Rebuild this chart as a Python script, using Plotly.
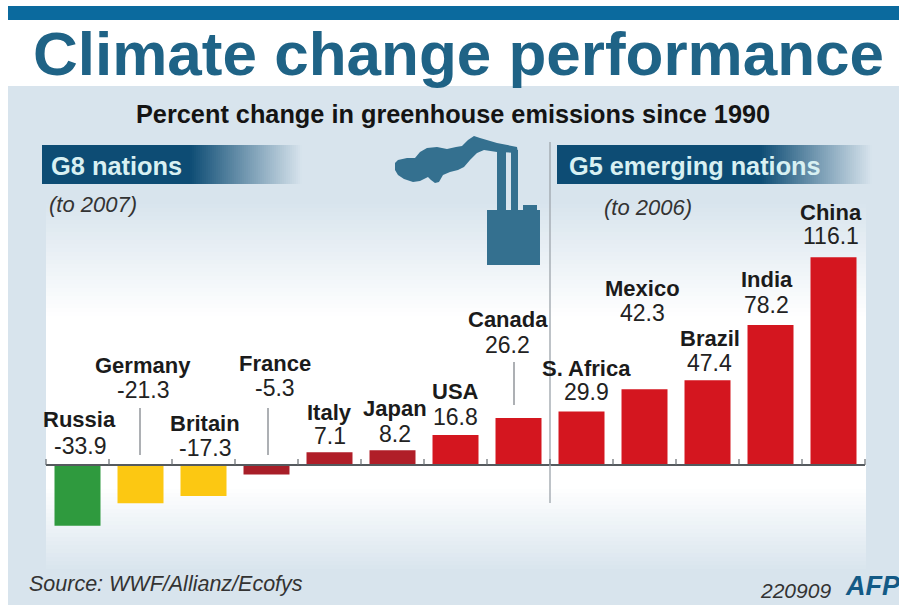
import plotly.graph_objects as go

# ---- data ----
categories = ["Russia", "Germany", "Britain", "France", "Italy", "Japan", "USA", "Canada",
              "S. Africa", "Mexico", "Brazil", "India", "China"]
values = [-33.9, -21.3, -17.3, -5.3, 7.1, 8.2, 16.8, 26.2, 29.9, 42.3, 47.4, 78.2, 116.1]
bar_colors = ["#2f9a3e", "#fcc812", "#fcc812", "#a81e28", "#b01e28", "#b01e28", "#d4161f", "#d4161f",
              "#d4161f", "#d4161f", "#d4161f", "#d4161f", "#d4161f"]

# label layout (pixels): centre offset from the bar, name row, value row
label_dx = [2, 2, 1, 8, 0, 2, 0, -11, 5, -2, 2, -4, -3]
name_y = [420, 365, 423, 363, 412, 408, 392, 320, 368, 288, 338, 279, 212]
value_y = [446, 390, 448, 388, 436, 434, 417, 345, 392, 313, 363, 305, 236]

W, H = 899, 606
FONT = "Liberation Sans"
PANEL = (216, 228, 237)
TEAL = "#1f6386"
AXIS_LEFT, AXIS_RIGHT = 46, 865


def px(x):
    return x / W


def py(y):
    return 1 - y / H


def mix(t):
    c = [round(p + (255 - p) * t) for p in PANEL]
    return f"rgb({c[0]},{c[1]},{c[2]})"


def rect(x0, y0, x1, y1, color):
    return dict(type="rect", xref="paper", yref="paper", x0=px(x0), x1=px(x1), y0=py(y0), y1=py(y1),
                fillcolor=color, line_width=0, layer="below")


def poly(points, color):
    d = "M " + " L ".join(f"{px(a):.5f},{py(b):.5f}" for a, b in points) + " Z"
    return dict(type="path", xref="paper", yref="paper", path=d, fillcolor=color, line_width=0, layer="below")


def vline(x, y0, y1, color="#8a8f94", width=1.4):
    return dict(type="line", xref="paper", yref="paper", x0=px(x), x1=px(x), y0=py(y0), y1=py(y1),
                line=dict(color=color, width=width), layer="above")


shapes = [rect(8, 86, 899, 605, mix(0)), rect(8, 6, 899, 20, "#0b6a9e")]

# vertical fade of the plot panel
for y in range(200, 320, 4):
    shapes.append(rect(46, y, 866, y + 4, mix(min(1, (y - 200) / 115))))
shapes.append(rect(46, 320, 866, 485, mix(1)))
for y in range(485, 580, 4):
    shapes.append(rect(46, y, 866, y + 4, mix(max(0, 1 - (y - 485) / 85))))


def banner(x0, x1, fade_from, y0, y1):
    shapes.append(rect(x0, y0, fade_from, y1, "#0d4c74"))
    for x in range(fade_from, x1, 2):
        t = (x + 1 - fade_from) / (x1 - fade_from)
        col = [round(a + (b - a) * t) for a, b in zip((13, 76, 116), PANEL)]
        shapes.append(rect(x, y0, x + 2, y1, f"rgb({col[0]},{col[1]},{col[2]})"))


banner(42, 302, 190, 145, 184)
banner(557, 872, 760, 145, 184)

# factory icon
ICON = "#34708f"
shapes.append(poly([(395, 163), (398, 160), (407, 158), (415, 158), (420, 152), (427, 148), (437, 147),
                    (447, 149), (456, 147), (462, 146), (468, 140), (474, 136), (480, 138), (497, 143),
                    (517, 147), (518, 153), (497, 152), (484, 150), (477, 153), (470, 160), (464, 167),
                    (458, 170), (450, 172), (443, 175), (439, 182), (435, 183), (431, 180), (428, 177),
                    (420, 181), (413, 182), (404, 179), (398, 175), (395, 170)], ICON))
shapes.append(rect(497, 150, 506, 212, ICON))
shapes.append(rect(511, 150, 518, 212, ICON))
shapes.append(rect(523, 205, 537, 212, ICON))
shapes.append(rect(487, 210, 540, 265, ICON))

# divider and leader lines
shapes += [vline(550, 142, 503, "#a3aab0"), vline(140, 408, 455), vline(268, 408, 455), vline(514, 362, 405)]

# ticks on the category boundaries
step = (AXIS_RIGHT - AXIS_LEFT) / len(categories)
for i in range(len(categories) + 1):
    shapes.append(vline(AXIS_LEFT + i * step, 459, 465, "#666b70", 1.2))


def text(x, y, s, size, color="#1b1b1b", bold=False, italic=False, anchor="center", family=FONT):
    if bold:
        s = f"<b>{s}</b>"
    if italic:
        s = f"<i>{s}</i>"
    return dict(xref="paper", yref="paper", x=px(x), y=py(y), text=s, showarrow=False, xanchor=anchor,
                yanchor="middle", font=dict(family=family, size=size, color=color))


annotations = [
    text(459, 53, "Climate change performance", 62, TEAL, bold=True),
    text(453, 114, "Percent change in greenhouse emissions since 1990", 25.3, "#141414", bold=True),
    text(49, 166, "G8 nations", 25.4, "#d8f0f2", bold=True, anchor="left"),
    text(567, 166, "G5 emerging nations", 25.3, "#d8f0f2", bold=True, anchor="left"),
    text(47, 205, "(to 2007)", 22, "#333333", italic=True, anchor="left"),
    text(602, 208, "(to 2006)", 22, "#333333", italic=True, anchor="left"),
    text(27, 584, "Source: WWF/Allianz/Ecofys", 21.5, "#333333", italic=True, anchor="left"),
    text(758, 590, "220909", 21, "#333333", italic=True, anchor="left"),
    text(843, 586, "AFP", 27, "#135a86", bold=True, italic=True, anchor="left"),
]
for cat, val, dx, ny, vy in zip(categories, values, label_dx, name_y, value_y):
    annotations.append(dict(xref="x", yref="paper", x=cat, xshift=dx, y=py(ny), text=f"<b>{cat}</b>",
                            showarrow=False, yanchor="middle",
                            font=dict(family=FONT, size=22, color="#1b1b1b")))
    annotations.append(dict(xref="x", yref="paper", x=cat, xshift=dx, y=py(vy), text=f"{val}",
                            showarrow=False, yanchor="middle",
                            font=dict(family=FONT, size=23, color="#222222")))

fig = go.Figure(go.Bar(x=categories, y=values, width=0.73, marker=dict(color=bar_colors, line=dict(width=0)),
                       hoverinfo="skip"))

PX_PER_UNIT = 1.79
PLOT_TOP, PLOT_BOTTOM, ZERO = 200, 560, 465
fig.update_layout(
    width=W, height=H, margin=dict(l=0, r=0, t=0, b=0), autosize=False,
    paper_bgcolor="white", plot_bgcolor="rgba(0,0,0,0)", showlegend=False,
    shapes=shapes, annotations=annotations,
    xaxis=dict(type="category", categoryorder="array", categoryarray=categories,
               domain=[px(AXIS_LEFT), px(AXIS_RIGHT)], range=[-0.5, 12.5], anchor="free", position=py(ZERO),
               showline=True, linecolor="#555a5e", linewidth=2, ticks="",
               showticklabels=False, showgrid=False, zeroline=False),
    yaxis=dict(domain=[py(PLOT_BOTTOM), py(PLOT_TOP)],
               range=[(ZERO - PLOT_BOTTOM) / PX_PER_UNIT, (ZERO - PLOT_TOP) / PX_PER_UNIT],
               visible=False, showgrid=False, zeroline=False),
)
fig.write_html("out.html", config=dict(displayModeBar=False),
               post_script="document.body.style.margin='0';document.documentElement.style.overflow='hidden';")
